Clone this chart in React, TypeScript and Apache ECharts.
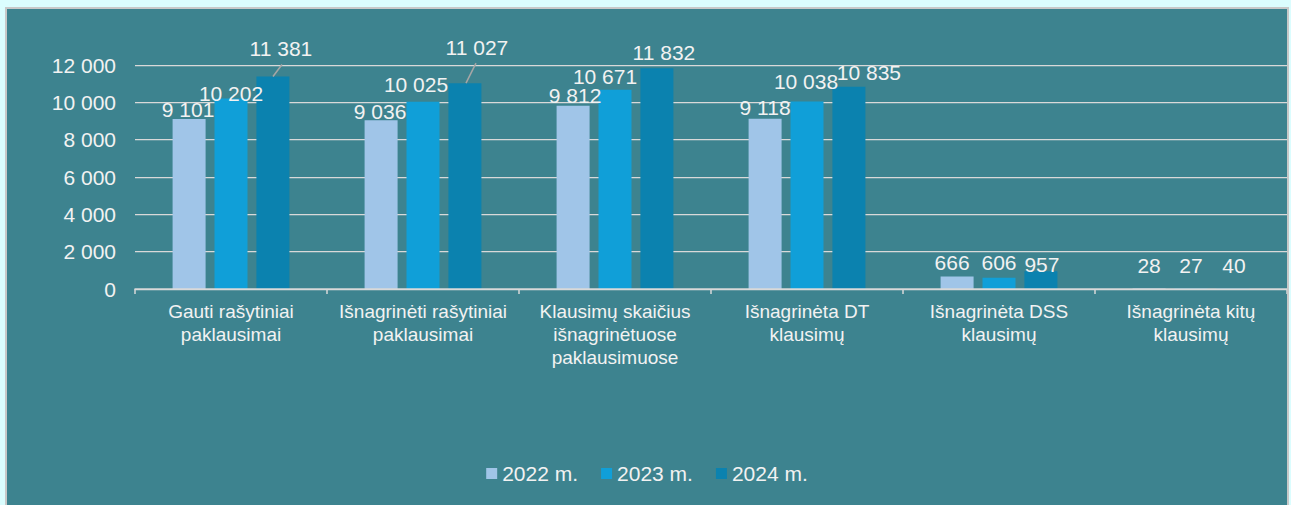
import React, { useEffect, useRef } from "react";
import * as echarts from "echarts";

const categories = [
  "Gauti rašytiniai\npaklausimai",
  "Išnagrinėti rašytiniai\npaklausimai",
  "Klausimų skaičius\nišnagrinėtuose\npaklausimuose",
  "Išnagrinėta DT\nklausimų",
  "Išnagrinėta DSS\nklausimų",
  "Išnagrinėta kitų\nklausimų",
];
const seriesNames = ["2022 m.", "2023 m.", "2024 m."];
const values2022 = [9101, 9036, 9812, 9118, 666, 28];
const values2023 = [10202, 10025, 10671, 10038, 606, 27];
const values2024 = [11381, 11027, 11832, 10835, 957, 40];
const yTicks = { min: 0, max: 12000, interval: 2000 };

// label nudges (style only), [dx, dy] per category
const labelShift2022 = [[-1, 3], [-1, 4], [2, 2], [0, 1], [-5, -2], [0, -10]];
const labelShift2023 = [[0, 7], [-7, -5], [-10, -1], [-1, -8], [0, -3], [0, -10]];
const labelShift2024 = [[8, -16], [12, -23], [7, -3], [20, -2], [1, 6], [1, -10]];
// leader lines of 2024 labels (style only): [start dx from bar centre, end dx, end dy]
const leader2024: (number[] | null)[] = [[0, 9, -12], [1, 11, -20], null, null, null, null];

const colors = ["#A0C5E8", "#109FD8", "#0B82AF"];
const textColor = "#F2F2F2";
const font = "'Liberation Sans', Arial, sans-serif";

const fmt = (v: number) => String(v).replace(/\B(?=(\d{3})+(?!\d))/g, " ");

export default function App() {
  const ref = useRef<HTMLDivElement>(null);
  useEffect(() => {
    if (!ref.current) return;
    const chart = echarts.init(ref.current, undefined, { renderer: "svg" });
    const allValues = [values2022, values2023, values2024];
    const shifts = [labelShift2022, labelShift2023, labelShift2024];
    const barSeries = allValues.map((vals, si) => ({
      name: seriesNames[si],
      type: "bar",
      barWidth: 33,
      barGap: "27%",
      itemStyle: { color: colors[si] },
      data: vals,
      z: 2,
      label: {
        show: true,
        position: "top",
        distance: 2,
        color: textColor,
        fontSize: 21,
        fontFamily: font,
        formatter: (p: any) => fmt(p.value),
      },
      labelLayout: (p: any) => ({ dx: shifts[si][p.dataIndex][0], dy: shifts[si][p.dataIndex][1] }),
    }));
    const leaderSeries = {
      type: "custom",
      name: "leaders",
      z: 3,
      silent: true,
      encode: { x: 0, y: 1 },
      data: values2024.map((v, i) => [i, v]),
      renderItem: (params: any, api: any) => {
        const l = leader2024[params.dataIndex];
        if (!l) return null;
        const p = api.coord([api.value(0), api.value(1)]);
        const barCenter = p[0] + 33 + 9; // third bar: one bar width + gap right of centre
        return {
          type: "line",
          shape: { x1: barCenter + l[0], y1: p[1], x2: barCenter + l[1], y2: p[1] + l[2] },
          style: { stroke: "#A6A6A6", lineWidth: 1.5 },
        };
      },
    };
    chart.setOption({
      animation: false,
      backgroundColor: "#3D838F",
      textStyle: { fontFamily: font },
      grid: { left: 128, right: 0, top: 56, bottom: 216, containLabel: false },
      legend: {
        top: 449,
        left: "center",
        itemWidth: 11,
        itemHeight: 11,
        itemGap: 23,
        icon: "rect",
        data: seriesNames,
        textStyle: { color: textColor, fontSize: 21, fontFamily: font },
      },
      xAxis: {
        type: "category",
        data: categories,
        z: 4,
        axisLine: { show: true, lineStyle: { color: "#D9D9D9", width: 1.5 } },
        axisTick: { show: true, length: 5, lineStyle: { color: "#D9D9D9", width: 1.5 } },
        axisLabel: {
          interval: 0,
          color: textColor,
          fontSize: 19,
          lineHeight: 23,
          margin: 11,
          fontFamily: font,
        },
      },
      yAxis: {
        type: "value",
        min: yTicks.min,
        max: yTicks.max,
        interval: yTicks.interval,
        axisLine: { show: false },
        axisTick: { show: false },
        axisLabel: {
          color: textColor,
          fontSize: 21,
          margin: 19,
          fontFamily: font,
          formatter: (v: number) => fmt(v),
        },
        splitLine: { lineStyle: { color: "#D9D9D9", width: 1.25 } },
      },
      series: [...barSeries, leaderSeries],
    });
    return () => chart.dispose();
  }, []);
  return (
    <div
      style={{
        position: "fixed",
        left: 0,
        top: 0,
        width: 1291,
        height: 505,
        background: "#DBFDFE",
        overflow: "hidden",
      }}
    >
      <div
        style={{
          position: "absolute",
          left: 5,
          top: 7,
          width: 1284,
          height: 505,
          border: "2px solid #C8C8C8",
          borderBottom: "none",
          boxSizing: "border-box",
          background: "#3D838F",
        }}
      >
        <div ref={ref} style={{ width: 1280, height: 496 }} />
      </div>
    </div>
  );
}
